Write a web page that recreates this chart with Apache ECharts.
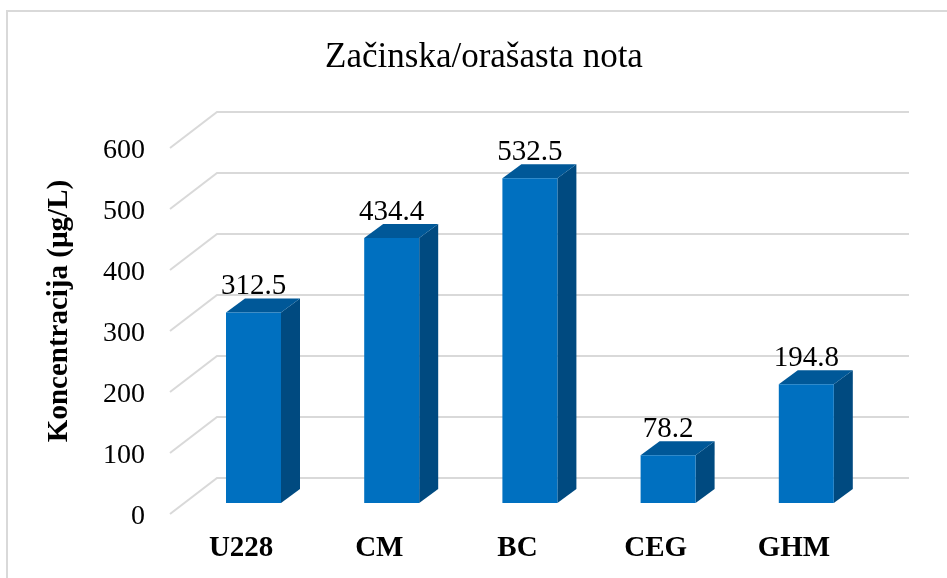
<!DOCTYPE html>
<html>
<head>
<meta charset="utf-8">
<script src="https://cdn.jsdelivr.net/npm/echarts@6/dist/echarts.min.js"></script>
<style>
  html, body { margin: 0; padding: 0; background: #fff; }
  #chart { width: 947px; height: 578px; }
</style>
</head>
<body>
<div id="chart"></div>
<script>
const categories = ['U228', 'CM', 'BC', 'CEG', 'GHM'];
const concentrations = [312.5, 434.4, 532.5, 78.2, 194.8];
const yTicks = [0, 100, 200, 300, 400, 500, 600];

const SERIF = '"Liberation Serif", "Times New Roman", serif';
// pseudo 3d offsets, px
const WALL_DX = 47, WALL_DY = -36;
const BAR_DX = 12.4, BAR_DY = -11, BAR_W = 55, DEPTH_X = 19, DEPTH_Y = -14;

const chart = echarts.init(document.getElementById('chart'));

function renderWall (params, api) {
  const p = api.coord([0, api.value(0)]);
  const rect = params.coordSys;
  const right = rect.x + rect.width + 46;
  return {
    type: 'polyline',
    silent: true,
    shape: { points: [[rect.x - 2, p[1]], [rect.x + WALL_DX - 2, p[1] + WALL_DY], [right, p[1] + WALL_DY]] },
    style: { fill: null, stroke: '#d9d9d9', lineWidth: 2 }
  };
}

function renderBar (params, api) {
  const top = api.coord([api.value(0), api.value(1)]);
  const base = api.coord([api.value(0), 0]);
  const x0 = top[0] + BAR_DX - BAR_W / 2;
  const x1 = x0 + BAR_W;
  const y0 = top[1] + BAR_DY;
  const y1 = base[1] + BAR_DY;
  return {
    type: 'group',
    children: [
      { type: 'polygon', shape: { points: [[x1, y0], [x1 + DEPTH_X, y0 + DEPTH_Y], [x1 + DEPTH_X, y1 + DEPTH_Y], [x1, y1]] }, style: { fill: '#004a80' } },
      { type: 'polygon', shape: { points: [[x0, y0], [x0 + DEPTH_X, y0 + DEPTH_Y], [x1 + DEPTH_X, y0 + DEPTH_Y], [x1, y0]] }, style: { fill: '#005898' } },
      { type: 'rect', shape: { x: x0, y: y0, width: BAR_W, height: y1 - y0 }, style: { fill: '#0070c0' } },
      { type: 'text', x: x0 + BAR_W / 2, y: y0 - 26, style: { text: String(api.value(1)), font: '29px ' + SERIF, fill: '#000', align: 'center', verticalAlign: 'middle' } }
    ]
  };
}

chart.setOption({
  animation: false,
  backgroundColor: '#fff',
  title: {
    text: 'Začinska/orašasta nota',
    left: 479,
    top: 35,
    textAlign: 'center',
    textStyle: { fontFamily: SERIF, fontSize: 35, fontWeight: 'normal', color: '#000' }
  },
  graphic: [{
    type: 'rect',
    silent: true,
    z: -1,
    shape: { x: 7, y: 11, width: 960, height: 600 },
    style: { fill: null, stroke: '#d9d9d9', lineWidth: 2 }
  }],
  grid: { left: 172, top: 148, width: 691, height: 366 },
  xAxis: {
    type: 'category',
    data: categories,
    axisLine: { show: false },
    axisTick: { show: false },
    axisLabel: { fontFamily: SERIF, fontSize: 29, fontWeight: 'bold', color: '#000', margin: 20 }
  },
  yAxis: {
    type: 'value',
    min: 0,
    max: 600,
    interval: 100,
    name: 'Koncentracija (µg/L)',
    nameLocation: 'middle',
    nameGap: 98,
    nameTextStyle: { fontFamily: SERIF, fontSize: 29, fontWeight: 'bold', color: '#000', padding: [0, 0, 0, 40] },
    axisLine: { show: false },
    axisTick: { show: false },
    splitLine: { show: false },
    axisLabel: { fontFamily: SERIF, fontSize: 28, color: '#000', margin: 27, verticalAlign: 'top', lineHeight: 6 }
  },
  series: [
    { type: 'custom', z: 1, renderItem: renderWall, data: yTicks.map(v => [v]), encode: { y: 0 }, silent: true },
    { type: 'custom', z: 2, renderItem: renderBar, data: categories.map((c, i) => [i, concentrations[i]]), encode: { x: 0, y: 1 } }
  ]
});
</script>
</body>
</html>
